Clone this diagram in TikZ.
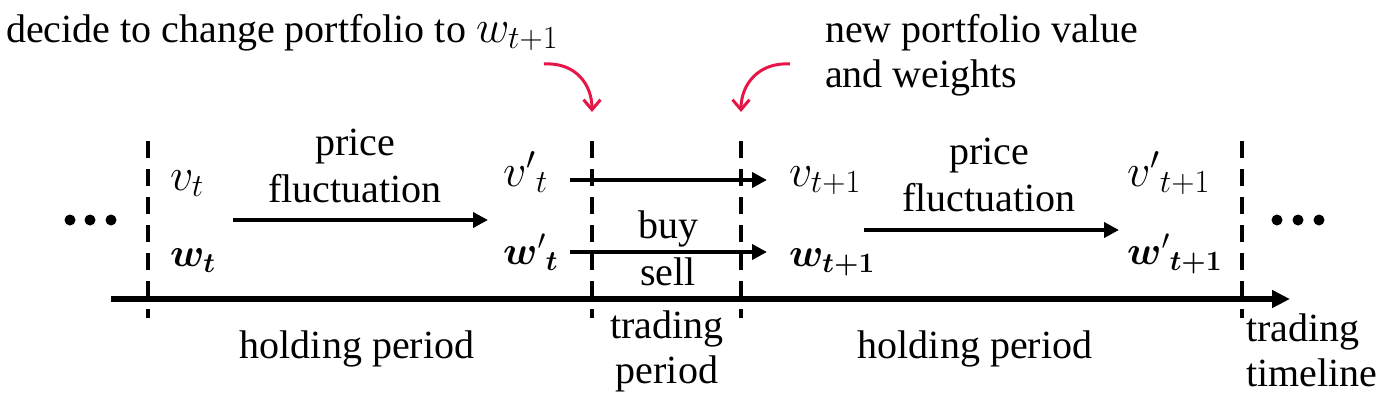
\RequirePackage{fix-cm}
\documentclass[tikz,border=0pt]{standalone}
\usepackage{amsmath}
\usepackage{bm}
\usepackage{fontspec}
\setmainfont{LiberationSerif}[Extension=.ttf, UprightFont=*-Regular, ItalicFont=*-Italic, BoldFont=*-Bold]
\usetikzlibrary{arrows.meta}
\definecolor{myred}{RGB}{230,22,72}
\newcommand{\mbig}{\fontsize{46}{50}\selectfont}
\begin{document}
\begin{tikzpicture}[x=1pt,y=-1pt,
  font=\fontsize{40}{45}\selectfont,
  lbl/.style={inner sep=0pt, anchor=base},
  mlbl/.style={inner sep=0pt, anchor=base west},
  arr/.style={line width=4pt, -{Triangle[length=15pt,width=15pt]}},
  dline/.style={line width=4pt, dash pattern=on 17pt off 11pt},
  redarr/.style={line width=3pt, draw=myred, -{Straight Barb[length=10pt,width=17pt]}},
  dotnode/.style={circle, fill, inner sep=0pt, minimum size=11pt}]
\useasboundingbox (0,0) rectangle (1382,400);

% top texts
\node[mlbl] (decide) at (6,42) {decide to change portfolio to {\mbig$w_{t+1}$}};
\node[mlbl, align=left] (newpv) at (825,87) {new portfolio value\\and weights};

% dashed separators
\foreach \n/\x in {a/148,b/592,c/741,d/1242}{
  \coordinate (\n top) at (\x,141);
  \coordinate (\n bot) at (\x,318);
  \draw[dline] (\n top) -- (\n bot);
}

% red arrows
\coordinate (r1s) at (544,64);
\coordinate (r1e) at (592,112);
\coordinate (r2s) at (790,64);
\coordinate (r2e) at (741,112);
\draw[redarr] (r1s) .. controls (575,62) and (592,84) .. (r1e);
\draw[redarr] (r2s) .. controls (759,62) and (741,84) .. (r2e);

% dots
\node[dotnode] (l1) at (70,220) {};
\node[dotnode] (l2) at (90,220) {};
\node[dotnode] (l3) at (111,220) {};
\node[dotnode] (q1) at (1277,220) {};
\node[dotnode] (q2) at (1298,220) {};
\node[dotnode] (q3) at (1319,220) {};

% variables
\node[mlbl, font=\mbig] (vt) at (170,190) {$v_t$};
\node[mlbl] (wt) at (170,266) {$\bm{w}_{\bm{t}}$};
\node[mlbl, font=\mbig] (vpt) at (503,186) {${v'}_t$};
\node[mlbl] (wpt) at (503,264) {${\bm{w}'}_{\bm{t}}$};
\node[mlbl, font=\mbig] (vt1) at (789,186) {$v_{t+1}$};
\node[mlbl] (wt1) at (789,266) {$\bm{w}_{\bm{t+1}}$};
\node[mlbl, font=\mbig] (vpt1) at (1127,186) {${v'}_{t+1}$};
\node[mlbl] (wpt1) at (1127,264) {${\bm{w}'}_{\bm{t+1}}$};

% labels
\node[lbl, align=center] (pf1) at (355,202) {price\\[2pt]fluctuation};
\node[lbl, align=center] (pf2) at (989,211) {price\\[2pt]fluctuation};
\node[lbl] (buy) at (668,238) {buy};
\node[lbl] (sell) at (668,285) {sell};
\node[lbl] (hp1) at (357,358) {holding period};
\node[lbl] (hp2) at (975,358) {holding period};
\node[lbl, align=center] (tp) at (667,383) {trading\\period};
\node[mlbl, align=left] (tl) at (1246,386) {trading\\timeline};

% arrows
\coordinate (a1s) at (233,220); \coordinate (a1e) at (488,220);
\coordinate (a2s) at (570,180); \coordinate (a2e) at (767,180);
\coordinate (a3s) at (570,252); \coordinate (a3e) at (767,252);
\coordinate (a4s) at (864,230); \coordinate (a4e) at (1119,230);
\draw[arr] (a1s) -- (a1e);
\draw[arr] (a2s) -- (a2e);
\draw[arr] (a3s) -- (a3e);
\draw[arr] (a4s) -- (a4e);

% timeline
\coordinate (ts) at (111,299);
\coordinate (te) at (1290,299);
\draw[line width=6pt, -{Triangle[length=18pt,width=17pt]}] (ts) -- (te);
\end{tikzpicture}
\end{document}
